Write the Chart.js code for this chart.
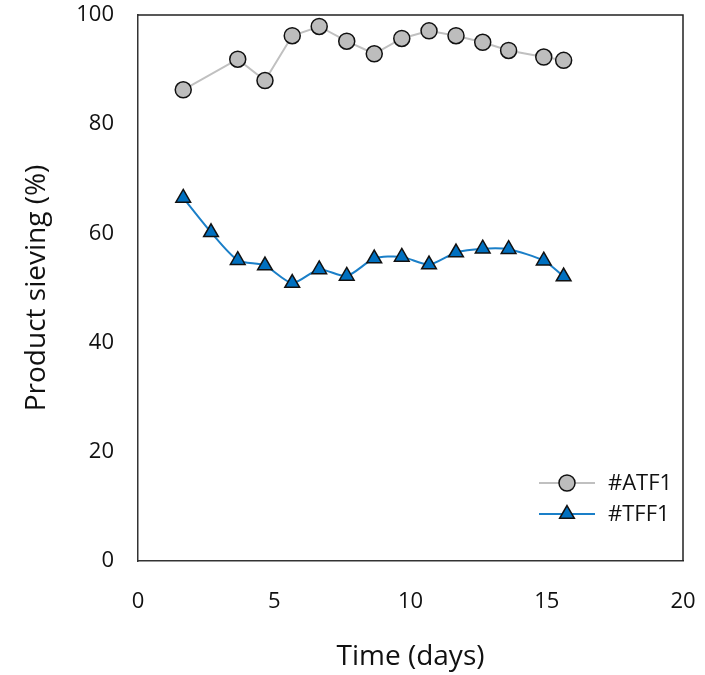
<!DOCTYPE html>
<html>
<head>
<meta charset="utf-8">
<script src="https://cdn.jsdelivr.net/npm/chart.js@4.4.1/dist/chart.umd.min.js"></script>
<style>
  html, body { margin: 0; padding: 0; background: #fff; }
  #wrap { width: 705px; height: 675px; }
</style>
</head>
<body>
<div id="wrap"><canvas id="myChart" width="705" height="675"></canvas></div>
<script>
// dữ liệu
const daysATF = [1.66, 3.66, 4.66, 5.66, 6.65, 7.66, 8.67, 9.68, 10.68, 11.67, 12.65, 13.6, 14.89, 15.62];
const sievingATF = [86.3, 91.9, 88.0, 96.2, 97.9, 95.2, 92.9, 95.7, 97.1, 96.2, 95.0, 93.5, 92.3, 91.7];
const daysTFF = [1.66, 2.68, 3.66, 4.66, 5.66, 6.65, 7.66, 8.67, 9.68, 10.68, 11.67, 12.65, 13.6, 14.89, 15.62];
const sievingTFF = [66.5, 60.2, 55.1, 54.1, 50.9, 53.4, 52.2, 55.4, 55.7, 54.3, 56.5, 57.2, 57.1, 55.0, 52.1];
const seriesNames = ['#ATF1', '#TFF1'];
const xTicks = [0, 5, 10, 15, 20];
const yTicks = [0, 20, 40, 60, 80, 100];

const FONT = "'Open Sans', 'Noto Sans', sans-serif";

function toPoints(xs, ys) {
    return xs.map((x, i) => ({ x: x, y: ys[i] }));
}

// khung viền trên + phải
const framePlugin = {
    id: 'frame',
    afterDraw(chart) {
        const { ctx, chartArea: a } = chart;
        ctx.save();
        ctx.strokeStyle = '#222';
        ctx.lineWidth = 1.5;
        ctx.beginPath();
        ctx.moveTo(a.left, a.top);
        ctx.lineTo(a.right, a.top);
        ctx.lineTo(a.right, a.bottom);
        ctx.stroke();
        ctx.restore();
    }
};

// chú thích tự vẽ ở góc dưới phải
const legendPlugin = {
    id: 'insideLegend',
    afterDraw(chart) {
        const { ctx } = chart;
        const rows = [483, 514];
        chart.data.datasets.forEach((ds, i) => {
            const y = rows[i];
            ctx.save();
            ctx.strokeStyle = ds.borderColor;
            ctx.lineWidth = ds.borderWidth;
            ctx.beginPath();
            ctx.moveTo(539, y);
            ctx.lineTo(595, y);
            ctx.stroke();
            ctx.fillStyle = ds.pointBackgroundColor;
            ctx.strokeStyle = ds.pointBorderColor;
            ctx.lineWidth = ds.pointBorderWidth;
            Chart.helpers.drawPoint(ctx, {
                pointStyle: ds.pointStyle,
                radius: ds.pointRadius,
                borderWidth: ds.pointBorderWidth
            }, 567, y);
            ctx.fillStyle = '#111';
            ctx.font = '22px ' + FONT;
            ctx.textBaseline = 'middle';
            ctx.textAlign = 'left';
            ctx.fillText(ds.label, 608, y + 1);
            ctx.restore();
        });
    }
};

const ctx = document.getElementById('myChart');
const chart = new Chart(ctx, {
    type: 'line',
    data: {
        datasets: [
            {
                label: seriesNames[0],
                data: toPoints(daysATF, sievingATF),
                borderColor: '#c0c0c0',
                borderWidth: 2,
                pointStyle: 'circle',
                pointRadius: 8,
                pointBackgroundColor: '#bdbdbd',
                pointBorderColor: '#111',
                pointBorderWidth: 1.5,
                tension: 0
            },
            {
                label: seriesNames[1],
                data: toPoints(daysTFF, sievingTFF),
                borderColor: '#1a7fc8',
                borderWidth: 2,
                pointStyle: 'triangle',
                pointRadius: 8.5,
                pointBackgroundColor: '#0070c0',
                pointBorderColor: '#111',
                pointBorderWidth: 1.5,
                tension: 0.25
            }
        ]
    },
    options: {
        responsive: false,
        animation: false,
        events: [],
        layout: { padding: { top: 15, right: 22, left: 0, bottom: 0 } },
        plugins: {
            legend: { display: false },
            tooltip: { enabled: false }
        },
        scales: {
            x: {
                type: 'linear',
                min: 0, max: 20,
                afterBuildTicks: s => { s.ticks = xTicks.map(v => ({ value: v })); },
                afterFit: s => { s.height = 114; s.paddingLeft = 0; s.paddingRight = 0; },
                grid: { display: false, drawOnChartArea: false, drawTicks: true, tickLength: 8, tickColor: '#333', tickWidth: 1.5 },
                border: { display: true, color: '#333', width: 1.5 },
                ticks: { color: '#111', font: { family: FONT, size: 22 }, padding: 20, maxRotation: 0 },
                title: { display: true, text: 'Time (days)', color: '#111', font: { family: FONT, size: 28 }, padding: { top: 0, bottom: 1 } }
            },
            y: {
                type: 'linear',
                min: 0, max: 100,
                afterBuildTicks: s => { s.ticks = yTicks.map(v => ({ value: v })); },
                afterFit: s => { s.width = 138; s.paddingTop = 0; s.paddingBottom = 0; },
                grid: { display: false, drawOnChartArea: false, drawTicks: true, tickLength: 8, tickColor: '#333', tickWidth: 1.5 },
                border: { display: true, color: '#333', width: 1.5 },
                ticks: { color: '#111', font: { family: FONT, size: 22 }, padding: 16 },
                title: { display: true, text: 'Product sieving (%)', color: '#111', font: { family: FONT, size: 28 }, padding: { top: 20, bottom: 0 } }
            }
        }
    },
    plugins: [framePlugin, legendPlugin]
});
</script>
</body>
</html>
